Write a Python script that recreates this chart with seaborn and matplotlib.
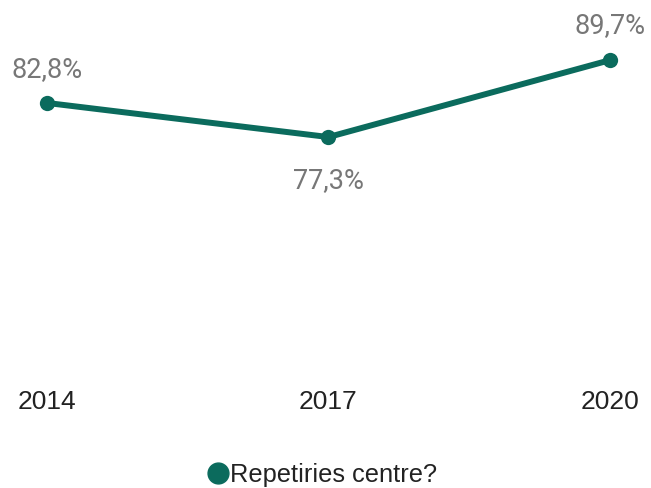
import matplotlib
matplotlib.use("Agg")
import matplotlib.pyplot as plt
from matplotlib.lines import Line2D
import seaborn as sns
import pandas as pd

years = [2014, 2017, 2020]
values = [82.8, 77.3, 89.7]
value_labels = ["82,8%", "77,3%", "89,7%"]
series_name = "Repetiries centre?"

teal = "#0b6b5d"
grey = "#777777"

sns.set_theme(style="white")
plt.rcParams['font.family'] = ['Liberation Sans', 'DejaVu Sans']

df = pd.DataFrame({"year": years, "value": values})

fig = plt.figure(figsize=(6.51, 4.88), dpi=100)
ax = fig.add_axes([0, 0.221, 1, 0.7377])

sns.lineplot(data=df, x="year", y="value", ax=ax, color=teal, linewidth=4.3,
             marker="o", markersize=11, markeredgewidth=0, legend=False)

ax.set_xlim(2013.5, 2020.437)
ax.set_ylim(38.1, 96.15)

# value labels: above / below points
offsets = [33, -43, 35]
for x, y, lab, off in zip(years, values, value_labels, offsets):
    ax.annotate(lab, (x, y), xytext=(0, off), textcoords="offset pixels",
                ha="center", va="center", fontsize=19.5, color=grey,
                family=['Roboto', 'DejaVu Sans'])

ax.set_xticks(years)
ax.set_xticklabels([str(y) for y in years], fontsize=19, color="#222222")
ax.tick_params(axis="x", length=0, pad=7)
ax.set_yticks([])
ax.set_xlabel("")
ax.set_ylabel("")
for s in ax.spines.values():
    s.set_visible(False)

handle = Line2D([], [], marker="o", color=teal, linestyle="none", markersize=15)
fig.legend([handle], [series_name], loc="center", bbox_to_anchor=(0.496, 0.027),
           frameon=False, fontsize=18.3, handlelength=0.7, handletextpad=0.1,
           labelcolor="#222222", borderpad=0)

fig.savefig("out.png", dpi=100)
